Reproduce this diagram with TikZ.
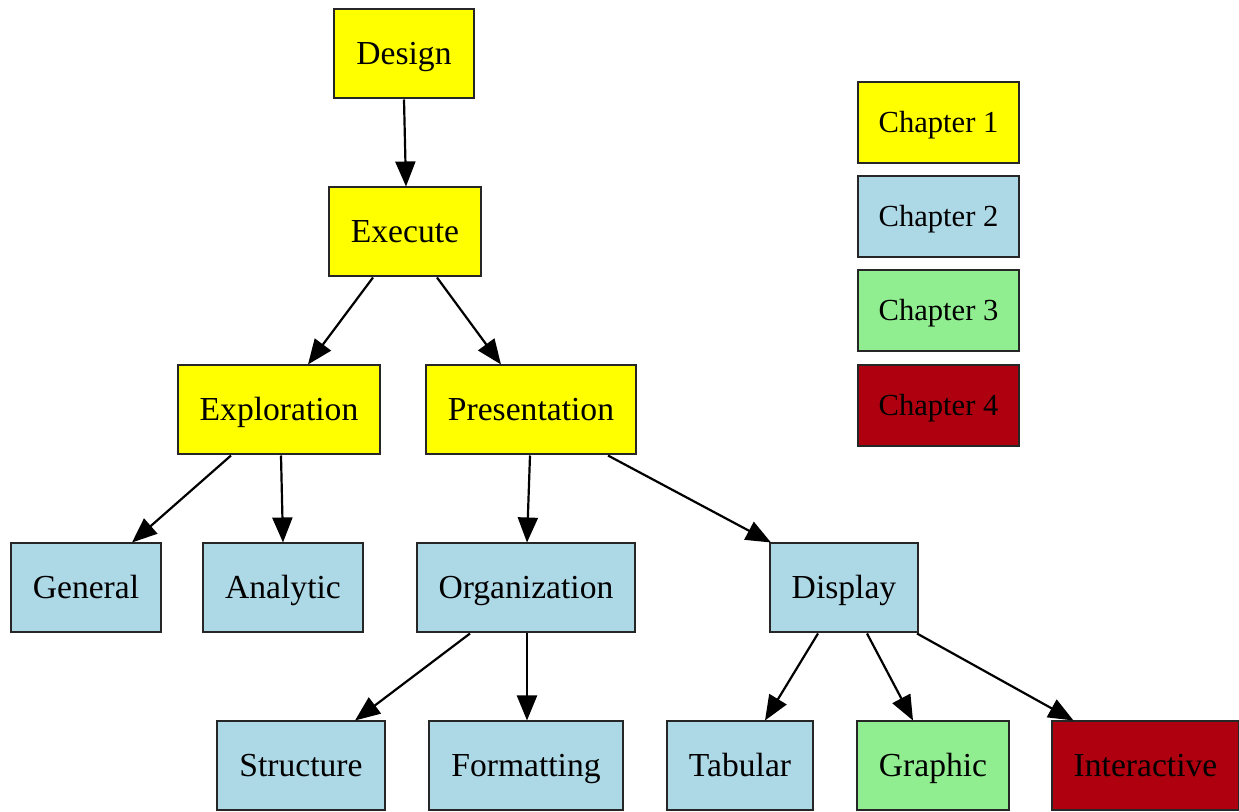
\documentclass[tikz,border=0pt]{standalone}
\usepackage{fontspec}
\setmainfont{Liberation Serif}
\usetikzlibrary{arrows.meta}

\definecolor{chapone}{RGB}{255,255,0}
\definecolor{chaptwo}{RGB}{173,216,230}
\definecolor{chapthree}{RGB}{144,238,144}
\definecolor{chapfour}{RGB}{175,0,15}

\tikzset{
    box/.style={draw=black!85,line width=1pt,rectangle,inner xsep=11pt,
        minimum height=44.5pt,text height=12.5pt,text depth=1.5pt,
        font=\fontsize{16.8pt}{20pt}\selectfont},
    legendbox/.style={box,inner xsep=10.25pt,minimum height=40.5pt,
        text height=11.5pt,text depth=1.5pt,
        font=\fontsize{15.3pt}{18pt}\selectfont},
    edge/.style={line width=1.1pt,-{Triangle[length=12.5pt,width=10pt]}}
}

\begin{document}
\begin{tikzpicture}[x=0.5pt,y=-0.5pt]
        \useasboundingbox (0,0) rectangle (1239,812);

        % the tree
        \node[box,fill=chapone] (design) at (404,54) {Design};
        \node[box,fill=chapone] (execute) at (405,232) {Execute};
        \node[box,fill=chapone] (exploration) at (279,410) {Exploration};
        \node[box,fill=chapone] (presentation) at (531,410) {Presentation};
        \node[box,fill=chaptwo] (general) at (86,588) {General};
        \node[box,fill=chaptwo] (analytic) at (283,588) {Analytic};
        \node[box,fill=chaptwo] (organization) at (526,588) {Organization};
        \node[box,fill=chaptwo] (display) at (844,588) {Display};
        \node[box,fill=chaptwo] (structure) at (301,766) {Structure};
        \node[box,fill=chaptwo] (formatting) at (526,766) {Formatting};
        \node[box,fill=chaptwo] (tabular) at (740,766) {Tabular};
        \node[box,fill=chapthree] (graphic) at (933,766) {Graphic};
        \node[box,fill=chapfour] (interactive) at (1145.5,766) {Interactive};

        % edges: from / start shift / to / end shift (pt)
        \foreach \from/\sa/\to/\sb in {design/0/execute/0.5,
            execute/-16/exploration/14.5, execute/16/presentation/-15,
            exploration/-24/general/23, exploration/1/analytic/0,
            presentation/-0.5/organization/0.5, presentation/38.5/display/-36.5,
            organization/-28/structure/27, organization/0.5/formatting/0.5,
            display/-13/tabular/12.5, display/11.5/graphic/-10,
            display/36.5/interactive/-36}
            \draw[edge] ([xshift=\sa pt]\from.south) -- ([xshift=\sb pt]\to.north);

        % legend
        \foreach \i/\c/\y in {1/chapone/122.5,2/chaptwo/216.5,3/chapthree/310.5,4/chapfour/405.5}
            \node[legendbox,fill=\c] (chapter\i) at (938.5,\y) {Chapter \i};
\end{tikzpicture}
\end{document}
